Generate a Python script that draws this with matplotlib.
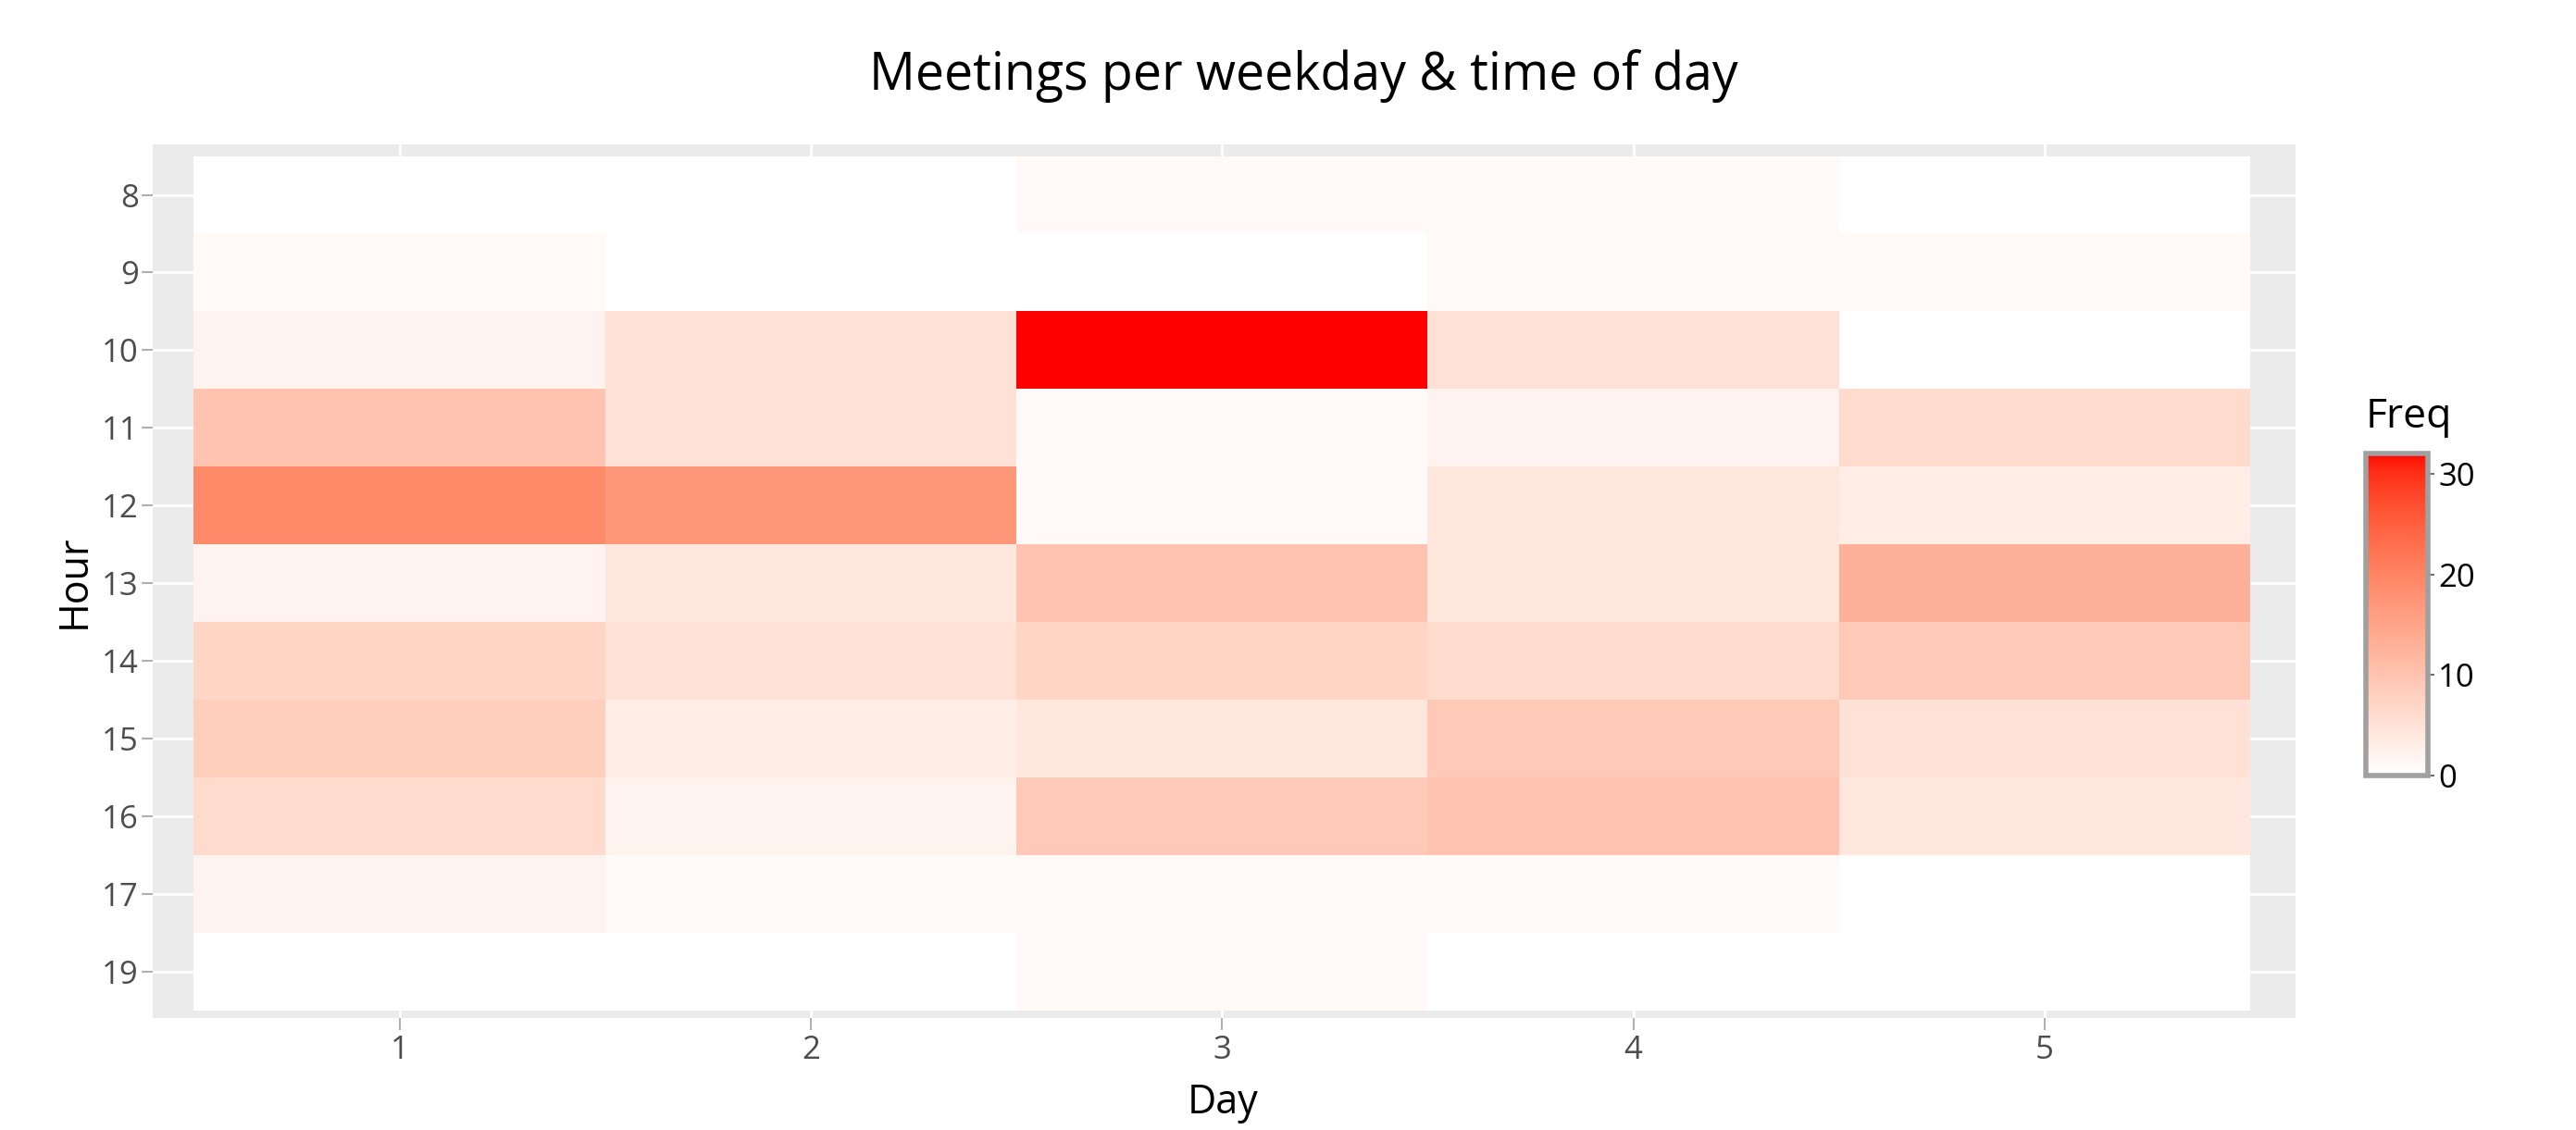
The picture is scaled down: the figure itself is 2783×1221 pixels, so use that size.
import numpy as np
import matplotlib
matplotlib.use("Agg")
import matplotlib.pyplot as plt
from matplotlib.colors import ListedColormap

plt.rcParams["font.family"] = ["Open Sans", "DejaVu Sans"]

days = [1, 2, 3, 4, 5]
hours = ["8", "9", "10", "11", "12", "13", "14", "15", "16", "17", "19"]

# meeting counts per hour (rows follow `hours`), one list per day
day1 = [0, 1, 2, 10, 19, 2, 7, 8, 6, 2, 0]
day2 = [0, 0, 5, 5, 17, 4, 5, 3, 2, 1, 0]
day3 = [1, 0, 32, 1, 1, 10, 7, 4, 9, 1, 1]
day4 = [1, 1, 5, 2, 4, 4, 6, 9, 10, 1, 0]
day5 = [0, 1, 0, 6, 3, 13, 9, 5, 4, 0, 0]

freq = np.array([day1, day2, day3, day4, day5]).T

M = np.array([[0.4124, 0.3576, 0.1805],
              [0.2126, 0.7152, 0.0722],
              [0.0193, 0.1192, 0.9505]])
WHITE_PT = np.array([0.95047, 1.0, 1.08883])


def to_lab(c):
    c = np.asarray(c, float)
    lin = np.where(c > 0.04045, ((c + 0.055) / 1.055) ** 2.4, c / 12.92)
    xyz = M @ lin / WHITE_PT
    f = np.where(xyz > 0.008856, np.cbrt(xyz), 7.787 * xyz + 16 / 116)
    return np.array([116 * f[1] - 16, 500 * (f[0] - f[1]), 200 * (f[1] - f[2])])


def to_rgb(lab):
    L, a, b = lab
    fy = (L + 16) / 116
    f = np.array([fy + a / 500, fy, fy - b / 200])
    xyz = np.where(f ** 3 > 0.008856, f ** 3, (f - 16 / 116) / 7.787) * WHITE_PT
    lin = np.linalg.inv(M) @ xyz
    lin = np.clip(lin, 0, None)
    c = np.where(lin > 0.0031308, 1.055 * lin ** (1 / 2.4) - 0.055, 12.92 * lin)
    return np.clip(c, 0, 1)


# white -> red, interpolated in Lab like ggplot's gradient
lab0, lab1 = to_lab([1, 1, 1]), to_lab([1, 0, 0])
cmap = ListedColormap([to_rgb(lab0 + t * (lab1 - lab0)) for t in np.linspace(0, 1, 256)])

W, H = 2783, 1221
fig = plt.figure(figsize=(W / 100, H / 100), dpi=100)
ax = fig.add_axes([165 / W, 1 - 1100 / H, 2315 / W, 944 / H])
ax.set_facecolor("#ebebeb")

x_edges = np.arange(len(days) + 1) + 0.5
y_edges = np.arange(len(hours) + 1) - 0.5
mesh = ax.pcolormesh(x_edges, y_edges, freq, cmap=cmap, vmin=0, vmax=32, zorder=2)

ax.set_xlim(0.4, 5.61)
ax.set_ylim(10.6, -0.65)
ax.set_xticks(days)
ax.set_yticks(range(len(hours)))
ax.set_yticklabels(hours)
ax.grid(True, color="white", linewidth=2, zorder=0)
ax.set_axisbelow(True)
for s in ax.spines.values():
    s.set_visible(False)
ax.tick_params(axis="both", length=9, width=1.5, color="#b0b0b0",
               labelcolor="#4d4d4d", labelsize=25)
ax.tick_params(axis="y", pad=2)
ax.tick_params(axis="x", pad=4)

ax.set_xlabel("Day", fontsize=31)
ax.xaxis.set_label_coords((1321 - 165) / 2315, (1100 - 1203) / 944)
ax.xaxis.label.set_va("baseline")
ax.set_ylabel("Hour", fontsize=31)
ax.yaxis.set_label_coords((80 - 165) / 2315, 0.5)
ax.yaxis.label.set_va("center")

fig.text(1408 / W, 1 - 97 / H, "Meetings per weekday & time of day",
         ha="center", va="baseline", fontsize=40)

cax = fig.add_axes([2556 / W, 1 - 838 / H, 67 / W, 348 / H])
cb = fig.colorbar(mesh, cax=cax, ticks=[0, 10, 20, 30])
cb.outline.set_edgecolor("#a0a0a0")
cb.outline.set_linewidth(4)
cax.tick_params(length=5, width=1.5, color="#707070", labelsize=25, pad=3)
fig.text(2556 / W, 1 - 462 / H, "Freq", ha="left", va="baseline", fontsize=32)

fig.savefig("out.png", dpi=100)
